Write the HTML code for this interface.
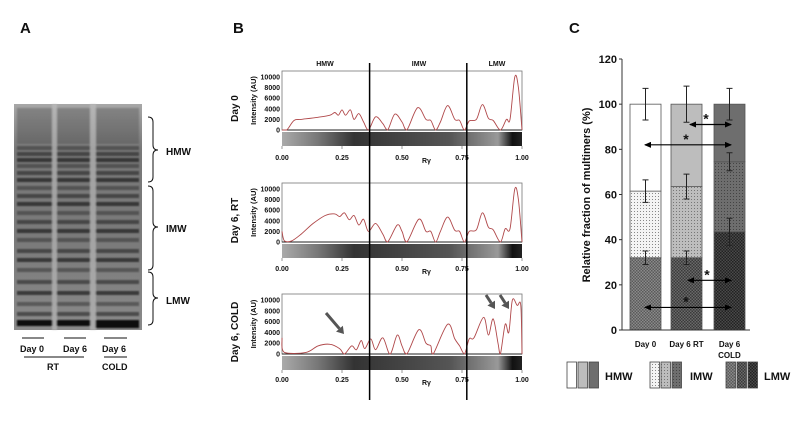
<!DOCTYPE html>
<html><head><meta charset="utf-8">
<style>
body{margin:0;background:#fff;}
svg text{font-family:"Liberation Sans",Arial,sans-serif;font-weight:bold;fill:#111;}
</style></head>
<body>
<svg id="fig" width="800" height="433" viewBox="0 0 800 433" xmlns="http://www.w3.org/2000/svg">
<defs>
<linearGradient id="gelbg" x1="0" y1="0" x2="0" y2="1">
<stop offset="0" stop-color="#a8a8a8"/><stop offset="0.2" stop-color="#787878"/><stop offset="0.6" stop-color="#7a7a7a"/><stop offset="1" stop-color="#8a8a8a"/></linearGradient>
<linearGradient id="strip" x1="0" y1="0" x2="1" y2="0">
<stop offset="0" stop-color="#aaa"/><stop offset="0.15" stop-color="#777"/><stop offset="0.3" stop-color="#333"/><stop offset="0.5" stop-color="#444"/><stop offset="0.7" stop-color="#555"/><stop offset="0.9" stop-color="#999"/><stop offset="0.96" stop-color="#111"/><stop offset="1" stop-color="#222"/></linearGradient>
<filter id="blur"><feGaussianBlur stdDeviation="0.9"/></filter>
<pattern id="dot1" width="3" height="3" patternUnits="userSpaceOnUse"><rect width="3" height="3" fill="#f4f4f4"/><rect x="1" y="1" width="1" height="1" fill="#888"/></pattern>
<pattern id="dot2" width="3" height="3" patternUnits="userSpaceOnUse"><rect width="3" height="3" fill="#bdbdbd"/><rect x="1" y="1" width="1" height="1" fill="#777"/></pattern>
<pattern id="dot3" width="3" height="3" patternUnits="userSpaceOnUse"><rect width="3" height="3" fill="#6e6e6e"/><rect x="1" y="1" width="1" height="1" fill="#444"/></pattern>
<pattern id="chk1" width="3" height="3" patternUnits="userSpaceOnUse"><rect width="3" height="3" fill="#8a8a8a"/><rect width="1.5" height="1.5" fill="#5a5a5a"/><rect x="1.5" y="1.5" width="1.5" height="1.5" fill="#5a5a5a"/></pattern>
<pattern id="chk2" width="3" height="3" patternUnits="userSpaceOnUse"><rect width="3" height="3" fill="#6a6a6a"/><rect width="1.5" height="1.5" fill="#3a3a3a"/><rect x="1.5" y="1.5" width="1.5" height="1.5" fill="#3a3a3a"/></pattern>
<pattern id="chk3" width="3" height="3" patternUnits="userSpaceOnUse"><rect width="3" height="3" fill="#4a4a4a"/><rect width="1.5" height="1.5" fill="#222"/><rect x="1.5" y="1.5" width="1.5" height="1.5" fill="#222"/></pattern>
<marker id="ah" markerUnits="userSpaceOnUse" markerWidth="7" markerHeight="6" refX="6" refY="3" orient="auto-start-reverse"><path d="M0,0 L7,3 L0,6 z" fill="#000"/></marker>
</defs>

<text x="20" y="33" font-size="15">A</text>
<text x="233" y="33" font-size="15">B</text>
<text x="569" y="33" font-size="15">C</text>

<g id="gel">
<rect x="14" y="104" width="128" height="226" fill="url(#gelbg)"/>
</g>
<g fill="none" stroke="#111" stroke-width="1">
<path d="M148,117 q5,0 5,5 v23 q0,5 5,5 q-5,0 -5,5 v22 q0,5 -5,5"/>
<path d="M148,186 q5,0 5,5 v31 q0,5 5,5 q-5,0 -5,5 v33 q0,5 -5,5"/>
<path d="M148,272 q5,0 5,5 v16 q0,5 5,5 q-5,0 -5,5 v17 q0,5 -5,5"/>
</g>
<text x="166" y="155" font-size="10">HMW</text>
<text x="166" y="232" font-size="10">IMW</text>
<text x="166" y="304" font-size="10">LMW</text>
<g stroke="#111" stroke-width="1">
<line x1="22" y1="338" x2="44" y2="338"/><line x1="64" y1="338" x2="86" y2="338"/><line x1="104" y1="338" x2="127" y2="338"/>
<line x1="24" y1="357" x2="84" y2="357"/><line x1="104" y1="357" x2="127" y2="357"/>
</g>
<text x="20" y="352" font-size="9">Day 0</text>
<text x="63" y="352" font-size="9">Day 6</text>
<text x="102" y="352" font-size="9">Day 6</text>
<text x="47" y="370" font-size="9">RT</text>
<text x="102" y="370" font-size="9">COLD</text>

<g id="panelB"></g>
<g id="panelC"></g>
</svg>

<script>
// ---------- Panel B data ----------
const profileNames = ["Day 0", "Day 6, RT", "Day 6, COLD"];
const profileDay0 = [[0,0],[0.02,0],[0.05,1800],[0.08,2000],[0.15,2400],[0.2,2800],[0.22,3300],[0.235,2800],[0.25,3800],[0.265,2800],[0.285,3800],[0.30,2000],[0.32,3100],[0.34,1500],[0.36,0],[0.39,2500],[0.42,1200],[0.44,0],[0.47,3000],[0.50,1500],[0.52,0],[0.565,4200],[0.60,2000],[0.62,1800],[0.64,0],[0.66,1500],[0.69,4600],[0.72,2000],[0.74,1800],[0.76,0],[0.78,1700],[0.81,2000],[0.835,4800],[0.86,2200],[0.88,1800],[0.91,0],[0.935,2000],[0.95,2000],[0.97,10000],[0.985,8000],[1,0]];
const profileDay6RT = [[0,2000],[0.01,200],[0.04,200],[0.08,1500],[0.13,3500],[0.18,5000],[0.22,5300],[0.24,4800],[0.26,5500],[0.28,4200],[0.30,5000],[0.32,3200],[0.34,4300],[0.36,2000],[0.39,3500],[0.42,1500],[0.44,0],[0.48,3200],[0.50,2000],[0.52,0],[0.57,4300],[0.60,2000],[0.62,2000],[0.64,0],[0.66,2000],[0.69,4700],[0.72,2200],[0.74,2000],[0.76,0],[0.78,2000],[0.81,2300],[0.835,5500],[0.86,2800],[0.88,2300],[0.91,0],[0.93,2500],[0.95,2500],[0.97,10000],[0.985,8000],[1,0]];
const profileCold = [[0,3000],[0.01,300],[0.1,300],[0.15,1500],[0.2,1800],[0.24,1000],[0.26,0],[0.29,1500],[0.31,800],[0.33,2500],[0.345,1000],[0.37,2800],[0.39,800],[0.42,3000],[0.45,0],[0.48,3500],[0.50,1500],[0.52,0],[0.57,4500],[0.60,2000],[0.62,1500],[0.63,0],[0.69,5500],[0.72,2800],[0.74,1500],[0.76,0],[0.78,2800],[0.80,3000],[0.84,6800],[0.86,3500],[0.88,6500],[0.90,2000],[0.91,0],[0.93,5500],[0.945,4000],[0.96,10000],[0.98,9000],[0.995,9000],[1,0]];
const yTicksB = [0,2000,4000,6000,8000,10000];
const xTicksB = ["0.00","0.25","0.50","0.75","1.00"];
const regionLabels = ["HMW","IMW","LMW"];
const regionBounds = [0.365, 0.77];

// ---------- Panel C data ----------
const groups = ["Day 0","Day 6 RT","Day 6\nCOLD"];
const lmwVals = [32, 32, 43.5];
const imwVals = [29.5, 31.5, 31];
const hmwVals = [38.5, 36.5, 25.5];
const lmwErr = [3, 3, 6];
const imwErr = [5, 5.5, 4];
const hmwErr = [7, 8, 7];
const yTicksC = [0,20,40,60,80,100,120];

const NS="http://www.w3.org/2000/svg";
function mk(tag, attrs, parent){const e=document.createElementNS(NS,tag);for(const k in attrs)e.setAttribute(k,attrs[k]);parent.appendChild(e);return e;}

(function(){
  const g=document.getElementById('gel');
  const bg=mk('g',{filter:'url(#blur)'},g);
  const lanes=[[17,53],[56,91],[95,139]];
  const bandsY=[146,152,158,164,171,178,186,194,202,211,220,229,238,249,258,268,280,291,302,312];
  lanes.forEach(function(l,li){
    const top=mk('rect',{x:l[0],y:108,width:l[1]-l[0],height:36,fill:'#3a3a3a',opacity:'0.3'},bg);
    
    
    bandsY.forEach(function(y,i){
      const r=mk('rect',{x:l[0],y:y,width:l[1]-l[0],height:4,fill:'#1e1e1e',opacity:(0.45+0.25*((i%3)/2)).toFixed(2)},bg);
      
      
    });
    const bot=mk('rect',{x:l[0],y:320,width:l[1]-l[0],height:li==2?8:6,fill:'#080808'},bg);
    
    
  });
  [[52,57],[90,96]].forEach(function(s){
    const st=mk('rect',{x:s[0],y:104,width:s[1]-s[0],height:226,fill:'#c0c0c0',opacity:'0.6'},bg);
    
    
  });
})();

(function(){
  const g=document.getElementById('panelB');
  const X0=282,X1=522;
  const sx=function(v){return X0+v*(X1-X0);};
  const plots=[{top:71,zero:130,tick:158,data:profileDay0},{top:183,zero:242,tick:269,data:profileDay6RT},{top:294,zero:354,tick:380,data:profileCold}];
  regionLabels.forEach(function(l,i){
    const xs=[325,419,497];
    const t=mk('text',{x:xs[i],y:66,'font-size':7,'text-anchor':'middle'},g);t.textContent=l;
    
    
  });
  plots.forEach(function(p,pi){
    const sy=function(v){return p.zero - v/10000*(p.zero-p.top-6);};
    const box=mk('rect',{x:X0,y:p.top,width:X1-X0,height:p.zero-p.top,fill:'#fff',stroke:'#777','stroke-width':0.8},g);
    
    
    const strip=mk('rect',{x:X0,y:p.zero+2,width:X1-X0,height:14,fill:'url(#strip)'},g);
    
    
    mk('line',{x1:X0,y1:p.zero,x2:X1,y2:p.zero,stroke:'#222','stroke-width':1},g);
    const pts=p.data.map(function(d){return [sx(d[0]),sy(d[1])];});
    let d='M'+pts[0][0].toFixed(1)+','+pts[0][1].toFixed(1);
    for(let i=0;i<pts.length-1;i++){
      const p0=pts[Math.max(0,i-1)],p1=pts[i],p2=pts[i+1],p3=pts[Math.min(pts.length-1,i+2)];
      const c1=[p1[0]+(p2[0]-p0[0])/6,Math.min(p.zero,p1[1]+(p2[1]-p0[1])/6)];
      const c2=[p2[0]-(p3[0]-p1[0])/6,Math.min(p.zero,p2[1]-(p3[1]-p1[1])/6)];
      d+=' C'+c1[0].toFixed(1)+','+c1[1].toFixed(1)+' '+c2[0].toFixed(1)+','+c2[1].toFixed(1)+' '+p2[0].toFixed(1)+','+p2[1].toFixed(1);
    }
    const path=mk('path',{d:d,fill:'none',stroke:'#b0484a','stroke-width':0.9},g);
    
    
    yTicksB.forEach(function(v){
      const t=mk('text',{x:X0-2,y:sy(v)+2.5,'font-size':7,'text-anchor':'end'},g);t.textContent=v;
      
      
    });
    xTicksB.forEach(function(l,i){
      const x=sx(i/4);
      mk('line',{x1:x,y1:p.zero+16,x2:x,y2:p.zero+19,stroke:'#555','stroke-width':0.6},g);
      const t=mk('text',{x:x,y:p.tick+2,'font-size':7,'text-anchor':'middle'},g);t.textContent=l;
      
      
    });
    const rf=mk('text',{x:sx(0.5)+20,y:p.tick+5,'font-size':7},g);rf.textContent='Rγ';
    
    
    const yl=mk('text',{x:0,y:0,'font-size':7.5,'text-anchor':'middle',transform:'translate(256,'+((p.top+p.zero)/2)+') rotate(-90)'},g);yl.textContent='Intensity (AU)';
    
    
    const nl=mk('text',{x:0,y:0,'font-size':10,'text-anchor':'middle',transform:'translate(238,'+((p.top+p.zero)/2+8)+') rotate(-90)'},g);nl.textContent=profileNames[pi];
    
    
  });
  regionBounds.forEach(function(b){
    const l=mk('line',{x1:sx(b),y1:63,x2:sx(b),y2:400,stroke:'#000','stroke-width':1.5},g);
    
    
  });
  [[326,313,344,334],[486,295,495,309],[500,295,509,309]].forEach(function(a){
    const dx=a[2]-a[0],dy=a[3]-a[1],L=Math.hypot(dx,dy),ux=dx/L,uy=dy/L,nx=-uy,ny=ux;
    const hx=a[2]-ux*7,hy=a[3]-uy*7;
    const ar=mk('g',{},g);
    
    
    mk('line',{x1:a[0],y1:a[1],x2:hx,y2:hy,stroke:'#555','stroke-width':3},ar);
    mk('polygon',{points:a[2]+','+a[3]+' '+(hx+nx*4.5)+','+(hy+ny*4.5)+' '+(hx-nx*4.5)+','+(hy-ny*4.5),fill:'#555'},ar);
  });
})();

(function(){
  const g=document.getElementById('panelC');
  const AX=622, Y0=330, PPU=(330-59)/120;
  const sy=function(v){return Y0-v*PPU;};
  const barX=[630,671,714], BW=31;
  const fillsH=['#ffffff','#bdbdbd','#6e6e6e'];
  const fillsI=['url(#dot1)','url(#dot2)','url(#dot3)'];
  const fillsL=['url(#chk1)','url(#chk2)','url(#chk3)'];
  groups.forEach(function(name,i){
    const segs=[[0,lmwVals[i],fillsL[i],'lmw'],[lmwVals[i],lmwVals[i]+imwVals[i],fillsI[i],'imw'],[lmwVals[i]+imwVals[i],lmwVals[i]+imwVals[i]+hmwVals[i],fillsH[i],'hmw']];
    segs.forEach(function(s){
      const r=mk('rect',{x:barX[i],y:sy(s[1]),width:BW,height:sy(s[0])-sy(s[1]),fill:s[2],stroke:'#555','stroke-width':0.8},g);
      
      
    });
    const tops=[lmwVals[i],lmwVals[i]+imwVals[i],lmwVals[i]+imwVals[i]+hmwVals[i]];
    const errs=[lmwErr[i],imwErr[i],hmwErr[i]];
    tops.forEach(function(t,k){
      const cx=barX[i]+BW/2;
      const eb=mk('path',{d:'M'+cx+','+sy(t-errs[k])+'V'+sy(t+errs[k])+'M'+(cx-3)+','+sy(t-errs[k])+'h6M'+(cx-3)+','+sy(t+errs[k])+'h6',stroke:'#222','stroke-width':1,fill:'none'},g);
      
      
    });
    name.split('\n').forEach(function(l,k){
      const t=mk('text',{x:barX[i]+BW/2,y:347+k*11,'font-size':8,'text-anchor':'middle'},g);t.textContent=l;
      
      
    });
  });
  mk('line',{x1:AX,y1:sy(120),x2:AX,y2:Y0,stroke:'#333','stroke-width':1},g);
  mk('line',{x1:AX,y1:Y0,x2:750,y2:Y0,stroke:'#333','stroke-width':1},g);
  yTicksC.forEach(function(v){
    mk('line',{x1:AX-3,y1:sy(v),x2:AX,y2:sy(v),stroke:'#333'},g);
    const t=mk('text',{x:AX-5,y:sy(v)+4,'font-size':11,'text-anchor':'end'},g);t.textContent=v;
    
    
  });
  const yt=mk('text',{x:0,y:0,'font-size':11,'text-anchor':'middle',transform:'translate(590,195) rotate(-90)'},g);yt.textContent='Relative fraction of multimers (%)';
  
  
  [[91,690,731,706],[82,645,731,686],[22,688,731,707],[10,645,731,686]].forEach(function(a){
    const l=mk('line',{x1:a[1],y1:sy(a[0]),x2:a[2],y2:sy(a[0]),stroke:'#000','stroke-width':1.2,'marker-start':'url(#ah)','marker-end':'url(#ah)'},g);
    
    
    const s=mk('text',{x:a[3],y:sy(a[0])-1,'font-size':14,'text-anchor':'middle'},g);s.textContent='*';
    
    
  });
  const legend=[[567,fillsH,'HMW',605],[650,fillsI,'IMW',690],[726,fillsL,'LMW',764]];
  legend.forEach(function(L){
    L[1].forEach(function(f,k){
      const r=mk('rect',{x:L[0]+k*11,y:362,width:9.5,height:26,fill:f,stroke:'#444','stroke-width':0.8},g);
      
      
    });
    const t=mk('text',{x:L[3],y:380,'font-size':11},g);t.textContent=L[2];
    
    
  });
})();
</script>
</body></html>
